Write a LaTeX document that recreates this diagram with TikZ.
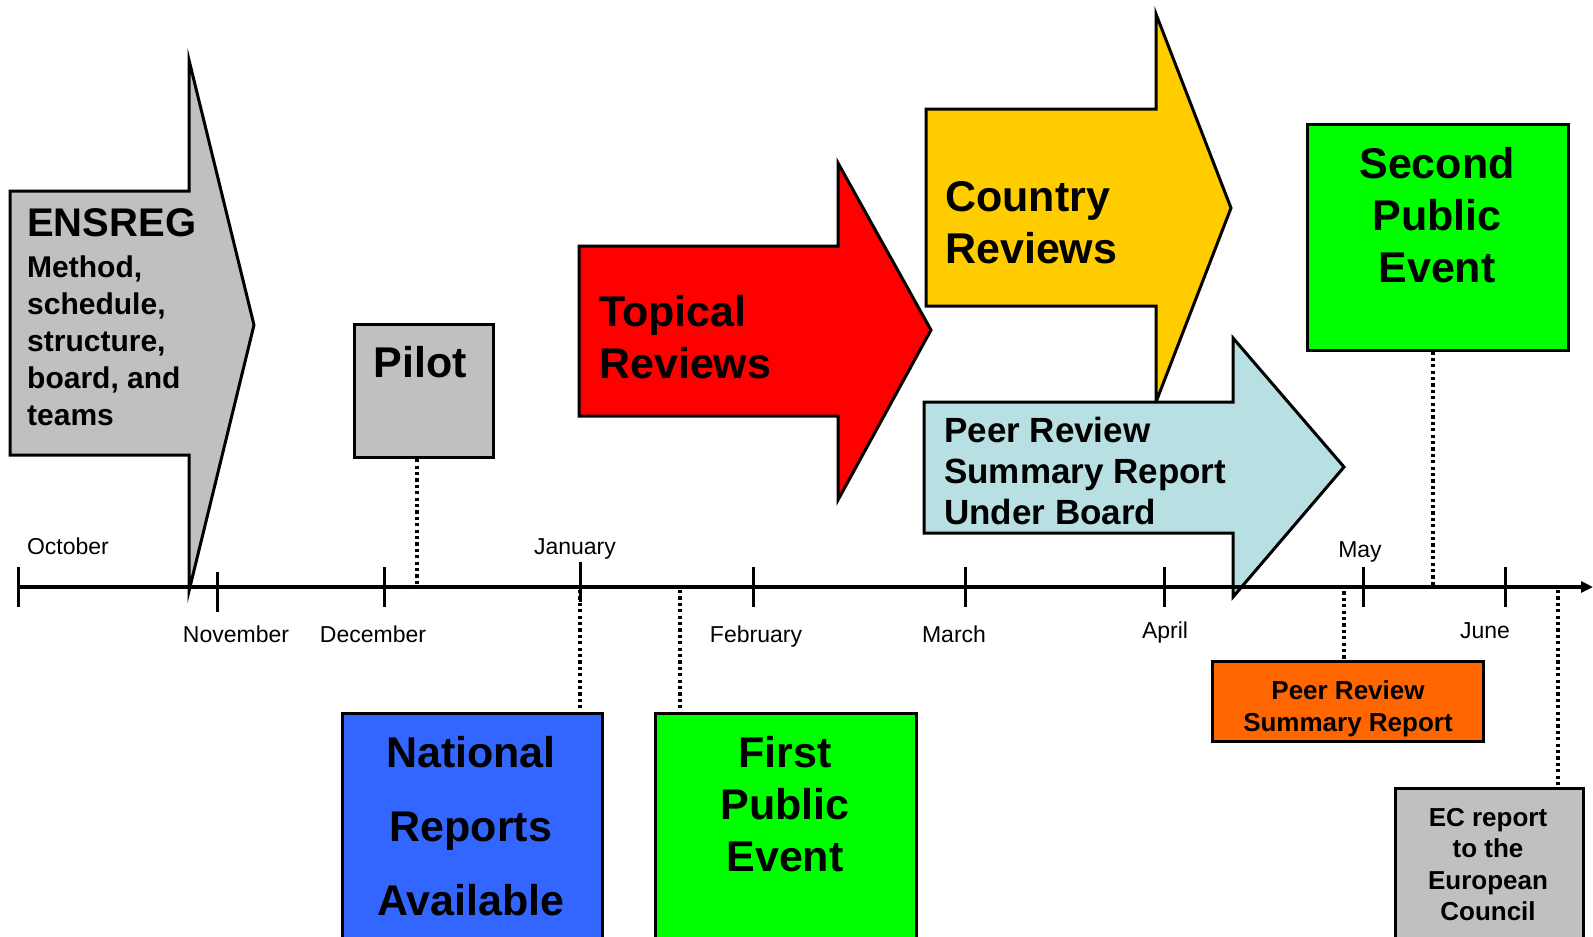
\documentclass[tikz,border=0pt]{standalone}
\usepackage{fontspec}
\setmainfont{Liberation Sans}
\usetikzlibrary{arrows.meta,calc}
\definecolor{cgray}{HTML}{C0C0C0}
\definecolor{cred}{HTML}{FF0000}
\definecolor{cyellow}{HTML}{FFCC00}
\definecolor{cblue}{HTML}{B8DFE2}
\definecolor{cgreen}{HTML}{00FF00}
\definecolor{croyal}{HTML}{3366FF}
\definecolor{corange}{HTML}{FF6600}
\tikzset{
  shapeline/.style={draw=black, line width=3pt, line join=miter},
  boxshape/.style={shapeline, rectangle, inner sep=0pt, outer sep=0pt},
  bigtext/.style={font=\bfseries\fontsize{43}{52}\selectfont, inner sep=0pt},
  midtext/.style={font=\bfseries\fontsize{35}{41}\selectfont, inner sep=0pt},
  smalltext/.style={font=\bfseries\fontsize{26}{32}\selectfont, inner sep=0pt, align=center},
  month/.style={font=\fontsize{23}{27}\selectfont, inner sep=0pt, anchor=base},
  tick/.style={line width=3pt},
  dotline/.style={line width=3.2pt, dash pattern=on 3.2pt off 3.2pt}
}
\begin{document}
\begin{tikzpicture}[x=1pt,y=-1pt]
\useasboundingbox (0,0) rectangle (1593,937);
\clip (0,0) rectangle (1593,937);

% ENSREG arrow
\draw[shapeline, fill=cgray] (10,191) -- (189,191) -- (189,60) -- (254,325) -- (189,591) -- (189,455) -- (10,455) -- cycle;
\node[font=\bfseries\fontsize{40}{44}\selectfont, inner sep=0pt, anchor=north west] (ensreg) at (27,208) {ENSREG};
\node[font=\bfseries\fontsize{30}{37}\selectfont, inner sep=0pt, anchor=north west, align=left] (ensregsub) at (27,256) {Method,\\schedule,\\structure,\\board, and\\teams};

% Pilot
\node[boxshape, fill=cgray, minimum width=139pt, minimum height=133pt] (pilot) at (423.5,390.5) {};
\node[bigtext, anchor=north] (pilott) at (420,346) {Pilot};

% Topical Reviews
\draw[shapeline, fill=cred] (579,246) -- (838,246) -- (838,163) -- (931,330) -- (838,500) -- (838,416) -- (579,416) -- cycle;
\node[bigtext, anchor=north west, align=left] (topical) at (599,295) {Topical\\Reviews};

% Country Reviews
\draw[shapeline, fill=cyellow] (926,109) -- (1156,109) -- (1156,14) -- (1231,208) -- (1156,402) -- (1156,306) -- (926,306) -- cycle;
\node[bigtext, anchor=north west, align=left] (country) at (945,181) {Country\\Reviews};

% Peer Review Summary Report Under Board
\draw[shapeline, fill=cblue] (924,402) -- (1233,402) -- (1233,338) -- (1344,467) -- (1233,597) -- (1233,533) -- (924,533) -- cycle;
\node[midtext, anchor=north west, align=left] (peerboard) at (944,417) {Peer Review\\Summary Report\\Under Board};

% Second Public Event
\node[boxshape, fill=cgreen, minimum width=261pt, minimum height=226pt] (second) at (1437.5,237) {};
\node[bigtext, anchor=north, align=center] (secondt) at (1437,147) {Second\\Public\\Event};

% National Reports Available
\node[boxshape, fill=croyal, minimum width=260pt, minimum height=247pt] (national) at (472,836.5) {};
\node[font=\bfseries\fontsize{43}{74}\selectfont, inner sep=0pt, anchor=north, align=center] (nationalt) at (471,736) {National\\Reports\\Available};

% First Public Event
\node[boxshape, fill=cgreen, minimum width=261pt, minimum height=247pt] (first) at (785.5,836.5) {};
\node[bigtext, anchor=north, align=center] (firstt) at (785,736) {First\\Public\\Event};

% Peer Review Summary Report (orange)
\node[boxshape, fill=corange, minimum width=271pt, minimum height=80pt] (summary) at (1347.5,701) {};
\node[smalltext, anchor=north] (summaryt) at (1348,680) {Peer Review\\Summary Report};

% EC report
\node[boxshape, fill=cgray, minimum width=188pt, minimum height=172pt] (ec) at (1489,874) {};
\node[font=\bfseries\fontsize{26}{31.5}\selectfont, inner sep=0pt, align=center, anchor=north] (ect) at (1488,808) {EC report\\to the\\European\\Council};

% axis coordinates
\coordinate (axL) at (18,587);
\coordinate (axR) at (1593,587);
\coordinate (mOct) at (18,587);
\coordinate (mNov) at (217,587);
\coordinate (mDec) at (384,587);
\coordinate (mJan) at (580,587);
\coordinate (mFeb) at (753,587);
\coordinate (mMar) at (965,587);
\coordinate (mApr) at (1164,587);
\coordinate (mMay) at (1363,587);
\coordinate (mJun) at (1505,587);

% dotted connectors
\coordinate (dPilot) at (417,584);
\coordinate (dNat) at (580,590);
\coordinate (dFirst) at (680,590);
\coordinate (dSum) at (1344,585);
\coordinate (dSec) at (1433,585);
\coordinate (dEC) at (1558,590);
\draw[dotline] (dPilot) -- (dPilot |- pilot.south);
\draw[dotline] (dNat) -- (dNat |- national.north);
\draw[dotline] (dFirst) -- (dFirst |- first.north);
\draw[dotline] (dSum) -- (dSum |- summary.north);
\draw[dotline] (dSec) -- (dSec |- second.south);
\draw[dotline] (dEC) -- (dEC |- ec.north);

% axis
\draw[line width=4pt, -{Triangle[length=12pt,width=11pt]}] (axL) -- (axR);
\foreach \m/\a/\b in {mOct/-20/20, mNov/-15/25, mDec/-20/20, mJan/-25/15, mFeb/-20/20, mMar/-20/20, mApr/-20/20, mMay/-20/20, mJun/-20/20}{
  \draw[tick] ($(\m)+(0,\a)$) -- ($(\m)+(0,\b)$);
}

% month labels
\node[month] (lOct) at (68,554) {October};
\node[month] (lNov) at (236,642) {November};
\node[month] (lDec) at (373,642) {December};
\node[month] (lJan) at (575,554) {January};
\node[month] (lFeb) at (756,642) {February};
\node[month] (lMar) at (954,642) {March};
\node[month] (lApr) at (1165,638) {April};
\node[month] (lMay) at (1360,557) {May};
\node[month] (lJun) at (1485,638) {June};
\end{tikzpicture}
\end{document}
